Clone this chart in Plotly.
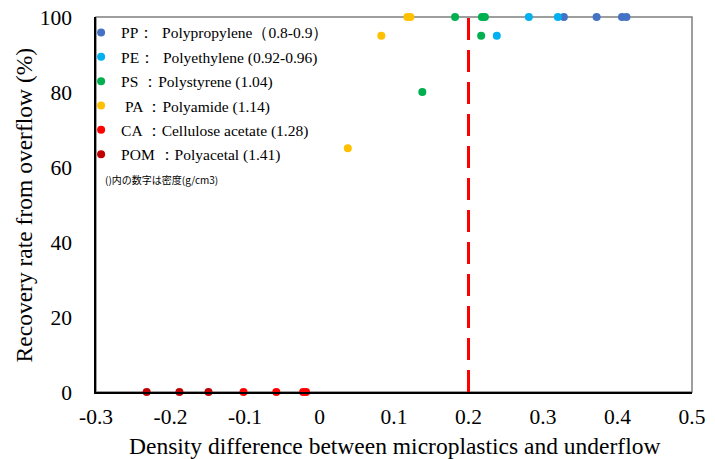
import plotly.graph_objects as go

# Data
pp_x = [0.328, 0.372, 0.406, 0.412]
pp_y = [100, 100, 100, 100]
pe_x = [0.281, 0.320, 0.238]
pe_y = [100, 100, 95]
ps_x = [0.182, 0.218, 0.222, 0.217, 0.138]
ps_y = [100, 100, 100, 95, 80]
pa_x = [0.118, 0.122, 0.083, 0.038]
pa_y = [100, 100, 95, 65]
ca_x = [-0.102, -0.058, -0.022, -0.018]
ca_y = [0, 0, 0, 0]
pom_x = [-0.232, -0.188, -0.149]
pom_y = [0, 0, 0]
threshold_x = 0.2

x_tickvals = [-0.3, -0.2, -0.1, 0, 0.1, 0.2, 0.3, 0.4, 0.5]
x_ticktext = ["-0.3", "-0.2", "-0.1", "0", "0.1", "0.2", "0.3", "0.4", "0.5"]

series = [
    ("PP：  Polypropylene（0.8-0.9）", pp_x, pp_y, "#4472C4"),
    ("PE：  Polyethylene (0.92-0.96)", pe_x, pe_y, "#00B0F0"),
    ("PS ：Polystyrene (1.04)", ps_x, ps_y, "#00B050"),
    (" PA ：Polyamide (1.14)", pa_x, pa_y, "#FFC000"),
    ("CA ：Cellulose acetate (1.28)", ca_x, ca_y, "#FF0000"),
    ("POM ：Polyacetal (1.41)", pom_x, pom_y, "#C00000"),
]

fig = go.Figure()
for i, (name, xs, ys, col) in enumerate(series):
    fig.add_trace(go.Scatter(
        x=xs, y=ys, mode="markers", name=name, legendgroup=str(i),
        marker=dict(color=col, size=8), cliponaxis=False,
    ))

fig.add_shape(type="line", x0=threshold_x, x1=threshold_x, y0=0, y1=100,
              xref="x", yref="y", line=dict(color="#FF0000", width=3, dash="22px,10px"))
fig.add_shape(type="rect", xref="paper", yref="paper", x0=0, x1=1, y0=0, y1=1,
              line=dict(color="#7f7f7f", width=1.5), layer="below")

serif = "Liberation Serif"

fig.add_annotation(text="()内の数字は密度(g/cm3)", xref="paper", yref="paper",
                   x=0.012, y=0.568, xanchor="left", yanchor="middle", showarrow=False,
                   font=dict(family="Noto Sans CJK JP", size=10, color="#000000"))
fig.add_annotation(text="Recovery rate from overflow (%)", xref="paper", yref="paper",
                   x=-0.121, y=0.5, xanchor="center", yanchor="middle", showarrow=False,
                   textangle=-90, font=dict(family=serif, size=23.5, color="#000000"))
fig.add_annotation(text="Density difference between microplastics and underflow",
                   xref="paper", yref="paper", x=0.5, y=-0.144,
                   xanchor="center", yanchor="middle", showarrow=False,
                   font=dict(family=serif, size=23.5, color="#000000"))

fig.update_layout(
    width=715, height=459,
    margin=dict(l=96, r=23, t=17, b=67),
    paper_bgcolor="white", plot_bgcolor="white",
    font=dict(family=serif, color="#000000"),
    showlegend=True,
    legend=dict(x=-0.025, y=1.003, xanchor="left", yanchor="top",
                font=dict(family=serif, size=15.5, color="#000000"),
                bgcolor="rgba(0,0,0,0)", tracegroupgap=1.2,
                itemwidth=30),
    xaxis=dict(range=[-0.3, 0.5], tickvals=x_tickvals, ticktext=x_ticktext,
               showgrid=False, zeroline=False, showline=True, automargin=False,
               linecolor="#000000", linewidth=1.5,
               tickfont=dict(size=21.5, family=serif), ticks="",
               ticklabelstandoff=4),
    yaxis=dict(range=[0, 100], dtick=20, showgrid=False, zeroline=False,
               showline=True, linecolor="#000000", linewidth=1.5, automargin=False,
               tickfont=dict(size=21.5, family=serif), ticks="",
               ticklabelstandoff=18),
)

fig.write_html("out.html", config={"displayModeBar": False},
               post_script="document.body.style.margin='0';document.body.style.overflow='hidden';")
